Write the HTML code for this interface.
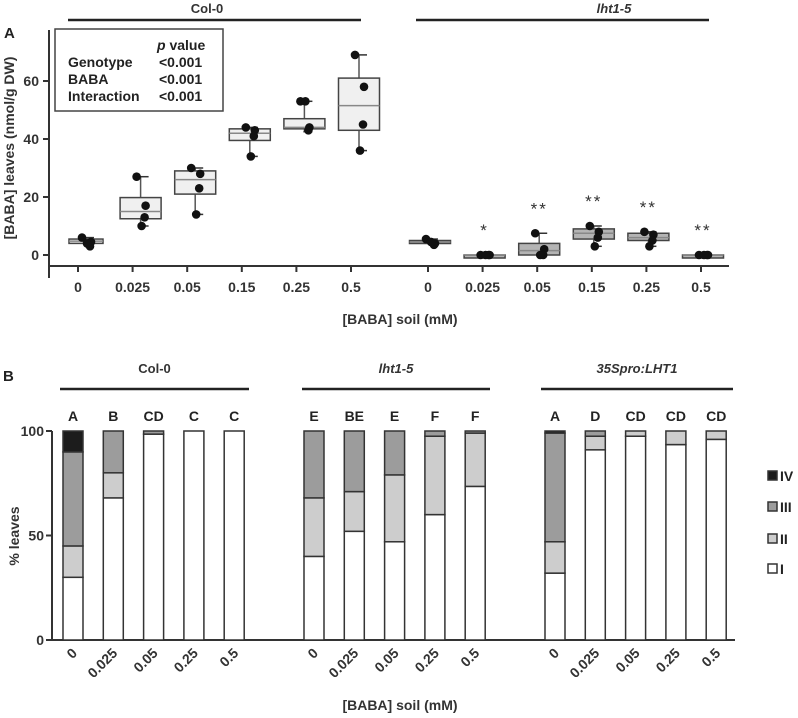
<!DOCTYPE html>
<html><head><meta charset="utf-8"><style>
html,body{margin:0;padding:0;background:#fff;}
svg{display:block;font-family:"Liberation Sans",Arial,sans-serif;font-weight:bold;}
</style></head><body>
<svg id="fig" width="798" height="718" viewBox="0 0 798 718" xmlns="http://www.w3.org/2000/svg">
<g>
<text x="4" y="38" font-size="15" fill="#222">A</text>
<line x1="68" y1="20" x2="361" y2="20" stroke="#222" stroke-width="2.5"/>
<text x="207" y="13" font-size="13" text-anchor="middle" fill="#333">Col-0</text>
<line x1="416" y1="20" x2="709" y2="20" stroke="#222" stroke-width="2.5"/>
<text x="614" y="13" font-size="13" text-anchor="middle" font-style="italic" fill="#333">lht1-5</text>
<line x1="49" y1="30" x2="49" y2="278" stroke="#333" stroke-width="2"/>
<line x1="49" y1="266" x2="729" y2="266" stroke="#333" stroke-width="2"/>
<text transform="translate(14,148) rotate(-90)" font-size="14" text-anchor="middle" fill="#333">[BABA] leaves (nmol/g DW)</text>
<text x="400" y="324" font-size="14" text-anchor="middle" fill="#333">[BABA] soil (mM)</text>
<g>
<rect x="55" y="29" width="168" height="82" fill="#fff" stroke="#444" stroke-width="1.5"/>
<text x="157" y="50" font-size="14" fill="#222"><tspan font-style="italic">p</tspan> value</text>
<text x="68" y="67" font-size="14" fill="#222">Genotype</text>
<text x="159" y="67" font-size="14" fill="#222">&lt;0.001</text>
<text x="68" y="84" font-size="14" fill="#222">BABA</text>
<text x="159" y="84" font-size="14" fill="#222">&lt;0.001</text>
<text x="68" y="101" font-size="14" fill="#222">Interaction</text>
<text x="159" y="101" font-size="14" fill="#222">&lt;0.001</text>
</g>
<g id="a-marks"></g>
</g>
<g>
<text x="3" y="381" font-size="15" fill="#222">B</text>
<line x1="52" y1="431" x2="52" y2="640" stroke="#333" stroke-width="2"/>
<line x1="52" y1="640" x2="735" y2="640" stroke="#333" stroke-width="2"/>
<text transform="translate(19,536) rotate(-90)" font-size="14" text-anchor="middle" fill="#333">% leaves</text>
<text x="400" y="710" font-size="14" text-anchor="middle" fill="#333">[BABA] soil (mM)</text>
<g id="b-marks"></g>
</g>
</svg>
<script>
// ---------- Panel A data ----------
const aDoses = ["0","0.025","0.05","0.15","0.25","0.5"];
const aGroups = ["Col-0","lht1-5"];
const colBoxQ1 = [4, 12.5, 21, 39.5, 43.5, 43];
const colBoxMed = [4.8, 15, 26, 42, 44, 51.5];
const colBoxQ3 = [5.5, 19.8, 29, 43.5, 47, 61];
const colWhiskLo = [3, 10, 14, 34, 42.5, 36];
const colWhiskHi = [6, 27, 30, 44, 53, 69];
const colPoints = [[6,4.5,3,4],[27,17,13,10],[30,28,23,14],[44,43,41,34],[53,44,43,53],[69,58,45,36]];
const lhtBoxQ1 = [4, 0, 0, 5.5, 5, 0];
const lhtBoxMed = [4.5, 0, 1.5, 7.5, 6, 0];
const lhtBoxQ3 = [5, 0, 4, 9, 7.5, 0];
const lhtWhiskLo = [3.5, 0, 0, 3, 3, 0];
const lhtWhiskHi = [5.5, 0, 7.5, 10, 8, 0];
const lhtPoints = [[5.5,4,3.5,4.5],[0,0,0,0],[7.5,2,0,0],[10,8,6,3],[8,7,5,3],[0,0,0,0]];
const lhtSig = ["", "*", "**", "**", "**", "**"];
const aYTicks = [0, 20, 40, 60];

// ---------- Panel B data ----------
const bDoses = ["0","0.025","0.05","0.25","0.5"];
const bGroups = ["Col-0","lht1-5","35Spro:LHT1"];
const stageNames = ["I","II","III","IV"];
const stageI = [30,68,98.5,100,100, 40,52,47,60,73.5, 32,91,97.5,93.5,96];
const stageII = [15,12,0,0,0, 28,19,32,37.5,25.5, 15,6.5,2.5,6.5,4];
const stageIII = [45,20,1.5,0,0, 32,29,21,2.5,1, 52,2.5,0,0,0];
const stageIV = [10,0,0,0,0, 0,0,0,0,0, 1,0,0,0,0];
const bLetters = ["A","B","CD","C","C", "E","BE","E","F","F", "A","D","CD","CD","CD"];
const bYTicks = [0, 50, 100];

const NS = "http://www.w3.org/2000/svg";
function mk(parent, tag, attrs){const e=document.createElementNS(NS,tag);for(const k in attrs)e.setAttribute(k,attrs[k]);parent.appendChild(e);return e;}

const yA = v => 255 - v*2.9;
const xA = (g,i) => (g===0 ? 78 : 428) + i*54.6;

const ga = document.getElementById('a-marks');
aYTicks.forEach(t=>{
  const l=mk(ga,'line',{x1:43,x2:49,y1:yA(t),y2:yA(t),stroke:'#333','stroke-width':2});
  
  
  const tx=mk(ga,'text',{x:39,y:yA(t)+5,'font-size':14,'text-anchor':'end',fill:'#333'});
  tx.textContent=t;
  
  
});
aGroups.forEach((grp,g)=>{
  const Q1=g?lhtBoxQ1:colBoxQ1, MED=g?lhtBoxMed:colBoxMed, Q3=g?lhtBoxQ3:colBoxQ3;
  const WL=g?lhtWhiskLo:colWhiskLo, WH=g?lhtWhiskHi:colWhiskHi, PTS=g?lhtPoints:colPoints;
  aDoses.forEach((d,i)=>{
    const tx0=xA(g,i);
    const tk=mk(ga,'line',{x1:tx0,x2:tx0,y1:266,y2:272,stroke:'#333','stroke-width':2});
    
    
    const lb=mk(ga,'text',{x:tx0,y:292,'font-size':14,'text-anchor':'middle',fill:'#333'});
    lb.textContent=d;
    
    
    const cx=tx0+(g===0?8:2), w=g===0?(i===0?34:41):41;
    const wl=mk(ga,'line',{x1:cx,x2:cx,y1:yA(WH[i]),y2:yA(WL[i]),stroke:'#555','stroke-width':1.5});
    
    
    [WH[i],WL[i]].forEach(v=>{const c=mk(ga,'line',{x1:cx-1,x2:cx+8,y1:yA(v),y2:yA(v),stroke:'#333','stroke-width':1.5});
      
      });
    const top=yA(Q3[i]), bot=yA(Q1[i]);
    const bx=mk(ga,'rect',{x:cx-w/2,y:top,width:w,height:Math.max(bot-top,3),fill:g?'#b4b4b4':'#f0f0f0',stroke:'#444','stroke-width':1.5});
    
    
    const md=mk(ga,'line',{x1:cx-w/2,x2:cx+w/2,y1:yA(MED[i]),y2:yA(MED[i]),stroke:'#888','stroke-width':1.5});
    
    
    const offs=[-3,2,5,-2];
    PTS[i].forEach((v,k)=>{const p=mk(ga,'circle',{cx:cx+offs[k]+(k%2?3:-1),cy:yA(v),r:4.3,fill:'#111'});
      
      });
    if(g===1 && lhtSig[i]){
      const mx=Math.max(WH[i],PTS[i].reduce((a,b)=>Math.max(a,b)));
      const s=mk(ga,'text',{x:cx,y:yA(mx)-19,'font-size':17,'text-anchor':'middle','font-weight':'normal',fill:'#333','letter-spacing':'2'});
      s.textContent=lhtSig[i];
      
      
    }
  });
});

const yB = v => 640 - v*2.09;
const xB = (g,i) => [73,314,555][g] + i*40.3;
const gb = document.getElementById('b-marks');
bYTicks.forEach(t=>{
  const l=mk(gb,'line',{x1:46,x2:52,y1:yB(t),y2:yB(t),stroke:'#333','stroke-width':2});
  
  
  const tx=mk(gb,'text',{x:44,y:yB(t)+5,'font-size':14,'text-anchor':'end',fill:'#333'});
  tx.textContent=t;
  
  
});
const lineX=[[60,249],[302,490],[541,733]];
bGroups.forEach((grp,g)=>{
  const ln=mk(gb,'line',{x1:lineX[g][0],x2:lineX[g][1],y1:389,y2:389,stroke:'#222','stroke-width':2.5});
  
  
  const gl=mk(gb,'text',{x:(lineX[g][0]+lineX[g][1])/2,y:373,'font-size':13,'text-anchor':'middle',fill:'#333','font-style':g?'italic':'normal'});
  gl.textContent=grp;
  
  
});
const stageFill=['#ffffff','#cdcdcd','#9c9c9c','#1c1c1c'];
const stageArr=[stageI,stageII,stageIII,stageIV];
bGroups.forEach((grp,g)=>{
  bDoses.forEach((d,i)=>{
    const idx=g*5+i, cx=xB(g,i);
    let cum=0;
    stageArr.forEach((arr,s)=>{
      const v=arr[idx]; if(v<=0) return;
      const r=mk(gb,'rect',{x:cx-10,y:yB(cum+v),width:20,height:v*2.09,fill:stageFill[s],stroke:'#333','stroke-width':1.5});
      
      
      cum+=v;
    });
    const lt=mk(gb,'text',{x:cx,y:421,'font-size':14,'text-anchor':'middle',fill:'#222'});
    lt.textContent=bLetters[idx];
    
    
    const tl=mk(gb,'text',{x:0,y:0,'font-size':14,'text-anchor':'end',fill:'#333',transform:'translate('+(cx+5)+',654) rotate(-45)'});
    tl.textContent=d;
    
    
  });
});
const legY=[477,508,540,570];
[3,2,1,0].forEach((s,k)=>{
  const r=mk(gb,'rect',{x:768,y:legY[k]-6,width:9,height:9,fill:stageFill[s],stroke:'#333','stroke-width':1.5});
  
  
  const t=mk(gb,'text',{x:780,y:legY[k]+4,'font-size':14,fill:'#222'});
  t.textContent=stageNames[s];
  
  
});
</script>
</body></html>
